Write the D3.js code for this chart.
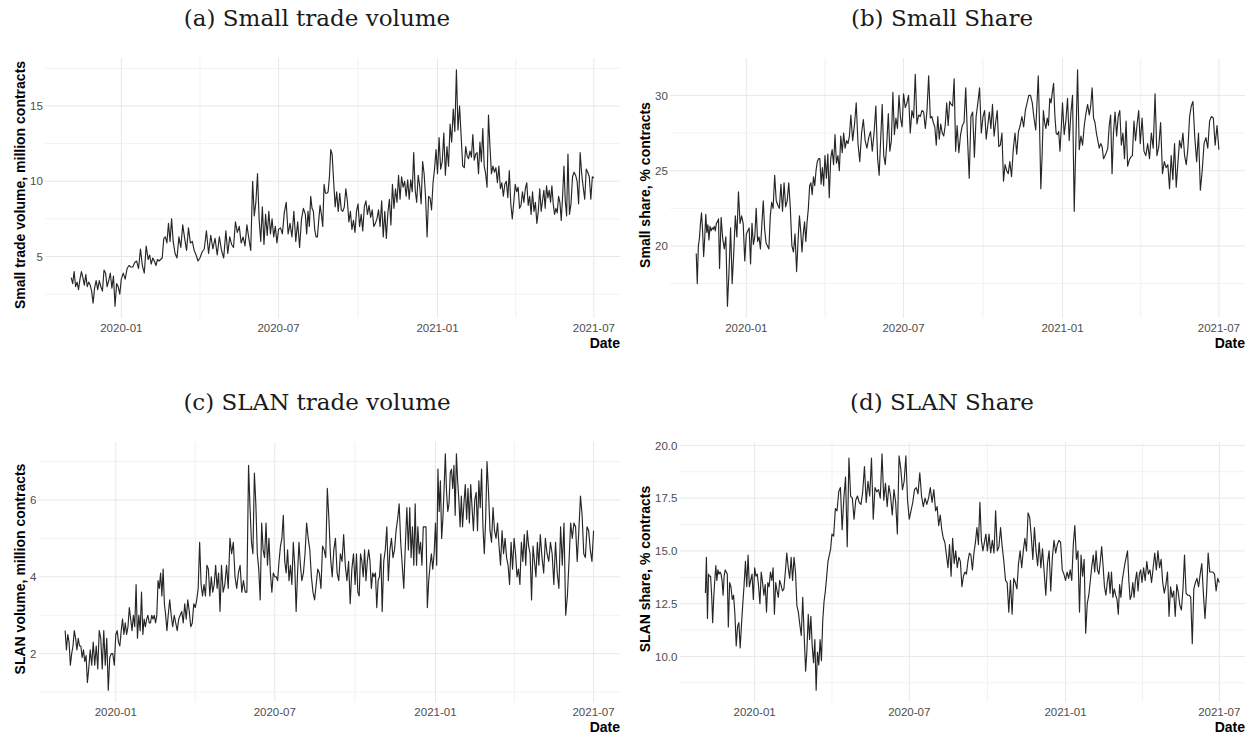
<!DOCTYPE html>
<meta charset="utf-8">
<style>
  body { margin: 0; background: #fff; }
  svg { display: block; background: #fff; }
  .title { font-family: "DejaVu Serif", serif; font-size: 23px; fill: #1a1a1a; }
  .tick-label { font-family: "Liberation Sans", Arial, sans-serif; font-size: 11.5px; fill: #4d4d4d; }
  .axis-title { font-family: "Liberation Sans", Arial, sans-serif; font-size: 14px; font-weight: bold; fill: #000; }
  .grid-major { stroke: #e8e8e8; stroke-width: 1; }
  .grid-minor { stroke: #f2f2f2; stroke-width: 1; }
  .series { fill: none; stroke: #262626; stroke-width: 1.15; stroke-linejoin: round; }
</style>
<body>
<svg width="1250" height="736"></svg>
<script src="https://cdn.jsdelivr.net/npm/d3@7"></script>
<script>
  // months covered by the daily series (first month starts on 4 Nov 2019, last entry is 1 Jul 2021)
  var firstDay = "2019-11-04";
  var months = ["2019-11", "2019-12", "2020-01", "2020-02", "2020-03", "2020-04", "2020-05",
    "2020-06", "2020-07", "2020-08", "2020-09", "2020-10", "2020-11", "2020-12", "2021-01",
    "2021-02", "2021-03", "2021-04", "2021-05", "2021-06", "2021-07"];
  var xTicks = ["2020-01-01", "2020-07-01", "2021-01-01", "2021-07-01"];

  // (a) small trade volume, million contracts
  var smallVolume = [
    [3.6, 3.2, 4.0, 3.0, 3.3, 2.8, 3.5, 4.0, 3.6, 3.1, 3.8, 3.0, 3.3, 3.1, 2.7, 1.9],
    [2.9, 3.4, 2.8, 3.4, 3.0, 2.7, 4.1, 3.9, 3.0, 3.4, 3.9, 2.9, 3.7, 1.7, 3.2, 3.0, 2.5],
    [3.5, 3.9, 3.5, 4.2, 4.4, 4.3, 4.3, 4.6, 4.7, 4.2, 5.5, 4.4, 3.9, 5.7],
    [4.8, 5.1, 4.5, 4.9, 4.7, 4.4, 4.8, 4.7, 4.8, 4.9, 6.2, 6.3, 5.9, 7.2, 6.0, 7.5],
    [6.0, 5.2, 4.9, 6.3, 5.6, 7.1, 6.2, 5.4, 6.9, 5.9, 6.0, 5.4, 5.1, 4.7],
    [4.9, 5.3, 5.5, 6.7, 5.2, 6.4, 5.5, 6.2, 5.1, 6.3, 5.4, 4.9],
    [6.7, 5.2, 6.3, 5.8, 5.6, 7.3, 6.6, 7.0, 5.9, 6.3, 5.7, 7.1, 6.2, 5.4],
    [10.0, 7.7, 8.6, 10.5, 7.5, 6.0, 8.3, 5.8, 7.8, 6.4, 8.0, 6.5, 7.5, 6.3, 7.0, 5.9],
    [6.8, 6.9, 6.5, 7.9, 8.6, 6.5, 7.2, 6.3, 8.0, 6.0, 7.3, 5.6, 7.5, 8.2],
    [7.8, 6.5, 8.0, 7.0, 9.0, 8.2, 8.0, 6.8, 6.3, 6.3, 7.4, 8.4, 7.8, 7.0, 9.8, 9.2, 9.2, 9.3, 10.3, 12.1],
    [11.8, 10.0, 8.3, 9.3, 8.0, 9.2, 8.1, 8.0, 8.3, 9.5, 8.7, 7.3, 8.0, 6.8, 7.4, 6.6, 8.0],
    [8.5, 7.0, 7.8, 6.7, 8.3, 8.7, 7.8, 8.4, 7.6, 8.1, 7.0, 7.2, 7.5, 8.1, 7.0, 8.7, 6.3],
    [8.0, 6.2, 7.9, 8.8, 7.1, 9.8, 8.2, 9.5, 8.6, 10.4, 8.8, 10.3, 9.6, 10.0, 9.0, 10.1, 8.8],
    [10.1, 9.3, 11.9, 9.4, 8.6, 10.4, 9.7, 8.5, 11.3, 10.5, 8.9, 6.3, 9.0, 8.9, 8.1, 9.9, 10.8, 12.1],
    [10.5, 12.9, 10.8, 11.3, 13.2, 10.4, 12.3, 11.0, 13.8, 12.6, 14.8, 13.3, 17.4, 13.4, 15.0, 13.0, 11.0],
    [10.9, 12.3, 11.7, 11.5, 12.0, 11.6, 13.1, 11.4, 11.8, 11.9, 10.5, 12.6, 11.3, 13.5, 11.0, 10.5, 9.6],
    [14.4, 12.3, 10.5, 11.0, 10.6, 10.9, 9.9, 11.0, 9.5, 9.9, 9.0, 9.8, 10.0, 8.9, 10.7, 8.5, 7.5, 8.6],
    [9.8, 9.3, 9.6, 8.2, 8.4, 9.3, 8.6, 9.5, 9.9, 8.4, 9.0, 7.8, 9.3, 8.0, 8.6, 7.2, 8.0, 9.5],
    [8.0, 8.7, 9.4, 8.2, 9.7, 8.9, 9.4, 8.6, 9.7, 8.5, 7.8, 8.2, 7.9, 9.0, 8.6, 7.4, 9.0, 11.0, 8.7, 7.7],
    [11.8, 7.8, 8.5, 10.3, 10.6, 10.4, 10.0, 8.5, 11.9, 10.5, 9.6, 8.8, 10.8, 10.6, 10.3, 8.8, 10.3],
    [10.2]
  ];

  // (b) small share, % contracts
  var smallShare = [
    [19.5, 17.5, 20.0, 20.5, 21.5, 22.2, 21.0, 19.3, 20.5, 22.1, 20.9, 21.4, 20.4, 21.3, 21.0, 21.2, 21.1, 21.3, 21.0, 21.5, 21.6, 21.8],
    [18.5, 21.9, 20.5, 19.8, 20.6, 16.0, 18.3, 21.2, 17.5, 19.5, 22.0, 20.6, 23.6, 21.5, 22.0, 21.5, 19.0],
    [20.8, 21.0, 21.2, 18.8, 21.5, 20.1, 20.6, 22.5, 20.3, 20.6, 19.8, 21.4, 23.0, 21.1, 20.2, 20.0, 19.8, 22.0, 22.9],
    [22.5, 24.7, 23.0, 22.7, 22.5, 24.1, 22.3, 24.2, 22.6, 23.0, 24.2, 22.5, 20.0, 19.6, 20.8, 18.3],
    [20.5, 22.0, 21.0, 19.6, 20.8, 21.6, 20.3, 21.6, 22.5, 24.0, 24.2, 23.4, 24.6, 24.0, 25.0, 25.6, 25.8, 25.8, 24.1, 25.2, 24.0],
    [26.0, 24.5, 26.1, 23.2, 25.8, 26.4, 25.4, 27.4, 25.5, 26.0, 25.0, 27.3, 26.2, 27.5, 26.5, 27.0, 26.8, 27.3],
    [28.7, 27.0, 28.0, 29.5, 26.8, 25.6, 27.5, 28.4, 27.0, 26.5, 27.2, 27.6, 26.3, 27.5, 29.3],
    [25.8, 24.7, 27.1, 29.4, 26.0, 25.4, 26.8, 28.8, 26.3, 27.0, 30.2, 27.4, 28.5, 27.8, 30.0, 28.5, 27.9],
    [30.1, 29.2, 29.5, 30.0, 27.5, 29.0, 28.5, 31.4, 28.1, 28.7, 28.6, 29.0, 28.9, 27.8, 29.0, 31.3],
    [28.5, 28.6, 28.2, 27.9, 26.7, 28.6, 27.1, 28.1, 27.5, 27.3, 28.0, 29.5, 28.0, 29.6, 29.4, 29.3, 31.1, 26.3],
    [28.0, 26.2, 27.4, 28.0, 28.2, 30.5, 27.2, 24.5, 28.6, 28.9, 25.9, 28.6, 29.5, 30.5, 27.5],
    [28.6, 29.0, 27.1, 28.0, 28.9, 27.8, 29.4, 27.3, 28.2, 29.0, 26.6, 26.7, 27.5, 24.3, 25.4, 25.0, 24.8],
    [25.6, 24.6, 26.4, 27.5, 26.1, 27.6, 28.0, 28.6, 27.9, 29.0, 29.5, 30.0, 30.0, 29.5, 28.5],
    [27.7, 29.5, 31.3, 28.0, 23.8, 26.0, 29.0, 28.2, 27.8, 28.5, 28.0, 29.8, 29.5, 30.2, 30.8, 28.7, 27.5, 27.4, 27.6, 26.3, 27.8],
    [29.5, 27.4, 28.3, 29.8, 27.0, 28.8, 30.0, 22.3, 27.0, 31.7, 26.4, 27.3, 26.7, 28.0, 28.8, 29.4],
    [28.7, 29.3, 30.5, 28.5, 28.2, 27.5, 27.0, 26.5, 26.8, 26.6, 25.8, 26.0, 26.2, 26.5, 28.0, 28.7, 24.8],
    [27.5, 28.9, 27.3, 28.6, 29.0, 26.7, 27.5, 25.8, 28.3, 25.3, 25.7, 25.9, 26.0, 28.3, 27.0, 28.1, 29.0],
    [26.8, 28.5, 26.3, 26.0, 26.8, 25.8, 27.5, 26.5, 30.1, 26.0, 26.6, 28.2, 24.8, 25.6],
    [25.2, 25.4, 23.8, 26.0, 24.4, 26.8, 23.9, 25.5, 27.0, 26.5, 27.5, 26.0, 25.4, 26.5, 28.6, 29.3],
    [29.6, 27.2, 25.6, 27.5, 23.7, 25.0, 26.8, 27.2, 26.5, 28.3, 28.6, 28.5, 26.7, 28.0],
    [26.4]
  ];

  // (c) SLAN trade volume, million contracts
  var slanVolume = [
    [2.6, 2.1, 2.5, 2.3, 1.7, 2.0, 2.2, 2.6, 2.4, 2.1, 2.4, 2.2, 2.2, 1.9, 2.1, 1.8, 1.95, 1.25],
    [1.6, 2.1, 1.7, 2.3, 1.7, 2.2, 1.6, 2.6, 2.4, 1.6, 2.6, 1.7, 2.4, 1.05, 1.9, 2.0, 2.0, 1.7],
    [2.5, 2.6, 2.3, 2.2, 2.6, 2.9, 2.5, 2.8, 2.5, 2.7, 3.2, 2.9, 2.6, 3.0, 2.7, 3.8, 2.4, 3.0, 2.6, 3.6],
    [2.5, 2.9, 2.7, 2.9, 3.0, 2.8, 2.8, 3.0, 2.9, 3.0, 2.8, 3.0, 3.9, 3.7, 4.1, 3.5, 4.2, 3.3, 3.0, 2.6],
    [3.0, 3.4, 3.0, 2.7, 3.0, 2.8, 2.6, 2.9, 3.0, 3.1, 2.8, 3.3, 2.9, 3.4, 3.1, 2.7, 2.8, 3.3],
    [3.2, 3.4, 3.7, 4.9, 3.8, 3.5, 3.8, 3.5, 4.3, 4.2, 3.5, 4.0, 3.6, 3.8, 4.3, 3.7, 4.1, 3.1],
    [4.3, 3.6, 3.8, 4.3, 3.7, 5.0, 4.6, 4.9, 4.0, 3.7, 4.1, 4.3, 3.6, 3.9, 3.6, 3.6],
    [6.9, 5.8, 4.9, 4.6, 6.7, 5.9, 4.6, 4.2, 3.4, 5.4, 4.7, 4.5, 5.4, 4.3, 5.0, 4.1, 3.6, 4.1],
    [4.0, 4.0, 3.9, 4.4, 4.8, 5.0, 5.6, 4.4, 4.1, 4.7, 3.9, 4.3, 3.8, 4.9, 4.3, 3.1, 4.1, 4.9, 4.3],
    [3.9, 4.1, 4.6, 5.4, 5.0, 4.7, 4.0, 3.6, 3.4, 3.8, 4.2, 4.1, 3.7, 4.8, 4.7, 4.5, 6.3],
    [5.5, 4.5, 4.0, 4.7, 5.0, 4.1, 3.9, 4.6, 4.4, 5.1, 4.3, 3.9, 4.4, 3.3, 4.2, 4.6],
    [3.8, 4.6, 3.6, 3.5, 4.6, 4.4, 4.0, 4.7, 3.9, 4.4, 4.7, 4.4, 3.7, 4.1, 4.0, 4.1, 3.2, 3.9, 4.0, 4.6],
    [3.1, 4.4, 4.7, 5.3, 3.9, 4.7, 5.0, 4.5, 4.7, 5.2, 5.5, 5.9, 4.9, 4.3, 3.7, 4.8, 5.8],
    [4.7, 5.8, 4.5, 5.3, 4.3, 5.9, 4.3, 5.3, 4.6, 4.9, 4.3, 5.3, 5.3, 5.3, 3.2, 3.9, 4.3, 4.6, 4.2, 4.6],
    [5.4, 4.3, 6.8, 5.7, 6.5, 5.0, 5.5, 6.3, 7.2, 6.2, 5.7, 5.9, 6.7, 6.8, 6.3, 6.9, 5.6, 7.2, 6.5, 6.0, 5.3, 6.1],
    [5.3, 5.9, 6.4, 5.5, 6.3, 5.4, 6.4, 5.8, 5.2, 6.0, 6.2, 5.2, 6.5, 5.8, 6.8, 5.3, 4.6, 5.5],
    [7.0, 6.2, 5.2, 4.9, 5.8, 5.2, 5.0, 5.4, 4.8, 4.3, 5.2, 4.6, 5.0, 4.5, 4.3, 3.8, 4.9, 4.2],
    [5.0, 4.6, 4.0, 4.2, 3.8, 4.9, 4.4, 5.1, 4.3, 5.2, 4.8, 4.6, 3.4, 4.8, 4.4, 4.0, 4.9, 4.3],
    [5.1, 4.5, 4.1, 5.0, 4.6, 4.4, 4.9, 4.6, 3.8, 4.9, 4.1, 3.7, 5.3, 4.3, 5.4, 3.0],
    [3.5, 4.4, 5.4, 5.0, 5.4, 5.3, 4.4, 5.2, 6.1, 5.6, 4.6, 4.5, 5.3, 5.2, 4.7, 4.4],
    [5.2]
  ];

  // (d) SLAN share, % contracts
  var slanShare = [
    [13.0, 14.7, 11.8, 13.9, 13.8, 13.8, 12.9, 11.6, 12.8, 13.6, 14.3, 13.6, 14.1, 13.9, 14.0, 13.9, 13.6, 12.9, 13.8, 14.1, 14.0, 13.9],
    [11.4, 13.5, 13.3, 12.7, 12.9, 12.0, 10.5, 11.4, 11.6, 10.4, 11.5, 12.5, 13.4, 14.5, 13.3, 14.8, 13.3, 13.6, 13.9, 12.7],
    [14.2, 13.8, 13.9, 13.3, 12.5, 14.0, 13.5, 12.9, 13.4, 12.1, 13.5, 13.3, 14.0, 13.6, 14.2, 12.0, 13.5, 13.1, 12.8, 13.6],
    [13.4, 13.1, 13.2, 14.0, 14.9, 14.2, 13.7, 14.7, 13.6, 14.7, 14.0, 12.4, 12.1, 11.5, 11.0, 12.8, 11.0],
    [9.3, 10.3, 12.0, 10.8, 11.9, 10.5, 9.7, 10.8, 8.4, 10.2, 9.6, 10.8, 9.8, 11.7, 12.6, 13.1, 13.8, 14.5, 14.8, 15.1],
    [15.8, 15.7, 17.0, 16.9, 17.8, 18.0, 16.0, 17.5, 18.5, 15.2, 19.4, 17.6, 17.5, 16.5, 17.4],
    [17.6, 17.3, 17.2, 17.8, 19.0, 17.3, 18.3, 17.6, 19.4, 16.5, 18.0, 17.8, 17.9, 17.5, 19.6],
    [17.4, 18.2, 17.1, 18.1, 17.6, 16.7, 17.9, 17.3, 15.8, 19.5, 18.9, 17.9, 18.3, 19.5, 17.4],
    [16.5, 16.9, 17.3, 17.9, 18.0, 17.7, 18.7, 17.6, 17.1, 17.5, 17.2, 17.5, 18.0, 17.3, 17.9],
    [16.9, 17.1, 16.2, 16.7, 16.0, 15.6, 15.4, 14.8, 14.2, 15.3, 13.8, 15.6, 14.4, 15.0, 14.2, 14.7, 14.5],
    [13.3, 13.8, 14.0, 13.9, 14.5, 14.9, 14.8, 14.1, 14.9, 15.4, 16.1, 15.3, 17.3, 15.5, 15.0, 15.4, 15.8],
    [15.0, 15.8, 14.9, 15.5, 14.9, 16.9, 15.0, 15.2, 16.1, 15.2, 14.5, 13.6, 13.5, 12.1, 13.6, 12.0],
    [13.7, 13.5, 13.2, 14.4, 15.0, 14.2, 15.0, 15.6, 15.0, 16.8, 16.6, 15.7, 14.6, 16.1, 15.0, 14.3],
    [15.4, 14.2, 15.1, 14.0, 12.9, 14.4, 15.0, 13.1, 14.7, 15.5, 14.9, 15.3, 15.5, 15.4, 14.1, 13.9],
    [13.6, 14.0, 13.7, 14.1, 13.6, 15.3, 16.2, 14.6, 15.0, 12.1, 14.8, 13.8, 14.6, 11.1, 12.5, 12.9, 13.6],
    [14.3, 14.8, 14.0, 15.0, 14.1, 13.9, 14.5, 15.2, 14.3, 13.3, 12.9, 13.5, 14.0, 13.0, 14.0, 12.8, 13.2],
    [12.9, 12.7, 12.0, 13.4, 12.8, 13.6, 14.0, 14.4, 14.7, 15.0, 13.6, 12.7, 12.9, 13.5, 12.8, 13.6, 14.0, 13.1, 13.9, 14.1],
    [13.5, 14.2, 13.6, 14.5, 13.9, 14.1, 13.5, 14.2, 14.9, 14.1, 15.0, 14.2, 14.6, 13.5, 13.0, 13.4],
    [14.0, 11.9, 13.3, 12.8, 13.1, 11.9, 13.4, 13.0, 12.4, 12.2, 13.2, 14.8, 13.0, 12.9, 12.9, 12.8, 10.6],
    [13.2, 13.5, 13.7, 13.3, 13.9, 14.4, 13.0, 11.8, 13.0, 14.9, 14.0, 14.0, 14.0, 13.9, 13.1, 13.7],
    [13.5]
  ];

  var titles = ["(a) Small trade volume", "(b) Small Share", "(c) SLAN trade volume", "(d) SLAN Share"];
  var yTitles = ["Small trade volume, million contracts", "Small share, % contracts",
    "SLAN volume, million contracts", "SLAN share, % contracts"];
  var yTicksA = [5, 10, 15];
  var yTicksB = [20, 25, 30];
  var yTicksC = [2, 4, 6];
  var yTicksD = [10, 12.5, 15, 17.5, 20];

  var svg = d3.select("svg");
  var parseDay = d3.timeParse("%Y-%m-%d");
  var parseMonth = d3.timeParse("%Y-%m");

  function toPoints(monthly) {
    var pts = [];
    monthly.forEach(function(vals, m) {
      var start = m === 0 ? parseDay(firstDay) : parseMonth(months[m]);
      var end = m < months.length - 1 ? parseMonth(months[m + 1]) : start;
      vals.forEach(function(v, i) {
        pts.push({ date: new Date(+start + (end - start) * i / vals.length), value: v });
      });
    });
    return pts;
  }

  var panels = [
    { ox: 0, oy: 0, title: titles[0], yTitle: yTitles[0], data: smallVolume, ticks: yTicksA, fmt: d3.format("d") },
    { ox: 625, oy: 0, title: titles[1], yTitle: yTitles[1], data: smallShare, ticks: yTicksB, fmt: d3.format("d") },
    { ox: 0, oy: 384, title: titles[2], yTitle: yTitles[2], data: slanVolume, ticks: yTicksC, fmt: d3.format("d") },
    { ox: 625, oy: 384, title: titles[3], yTitle: yTitles[3], data: slanShare, ticks: yTicksD, fmt: d3.format(".1f") }
  ];

  panels.forEach(drawPanel);

  function drawPanel(p) {
    var g = svg.append("g").attr("transform", "translate(" + p.ox + "," + p.oy + ")");
    var top = 58, bottom = 318, right = 620;
    var pts = toPoints(p.data);

    var ext = d3.extent(pts, function(d) { return d.value; });
    var pad = (ext[1] - ext[0]) * 0.05;
    var y = d3.scaleLinear().domain([ext[0] - pad, ext[1] + pad]).range([bottom, top]);

    // y tick labels first, so the panel's left edge can follow their width
    var yLab = g.append("g").selectAll("text").data(p.ticks).enter().append("text")
      .attr("class", "tick-label")
      .attr("text-anchor", "end")
      .attr("y", function(d) { return y(d); })
      .attr("dy", "0.36em")
      .text(p.fmt);
    var w = d3.max(yLab.nodes(), function(n) { return n.getComputedTextLength(); });
    var left = 30 + w + 2.3;
    yLab.attr("x", left - 2.3);

    var tExt = d3.extent(pts, function(d) { return d.date; });
    var tPad = (tExt[1] - tExt[0]) * 0.05;
    var x = d3.scaleTime()
      .domain([new Date(+tExt[0] - tPad), new Date(+tExt[1] + tPad)])
      .range([left, right]);

    var xMajor = xTicks.map(parseDay);
    var xMinor = d3.pairs(xMajor).map(function(q) { return new Date((+q[0] + +q[1]) / 2); });
    var step = p.ticks[1] - p.ticks[0];
    var yMinor = [p.ticks[0] - step / 2].concat(p.ticks.map(function(t) { return t + step / 2; }))
      .filter(function(v) { return v >= y.domain()[0] && v <= y.domain()[1]; });
    var yMajor = p.ticks.filter(function(v) { return v >= y.domain()[0] && v <= y.domain()[1]; });
    var xMinorIn = xMinor.filter(function(d) { return d >= x.domain()[0] && d <= x.domain()[1]; });

    var grid = g.append("g");
    grid.selectAll(".ym").data(yMinor).enter().append("line")
      .attr("class", "grid-minor")
      .attr("x1", left).attr("x2", right)
      .attr("y1", function(d) { return y(d); }).attr("y2", function(d) { return y(d); });
    grid.selectAll(".xm").data(xMinorIn).enter().append("line")
      .attr("class", "grid-minor")
      .attr("y1", top).attr("y2", bottom)
      .attr("x1", function(d) { return x(d); }).attr("x2", function(d) { return x(d); });
    grid.selectAll(".yM").data(yMajor).enter().append("line")
      .attr("class", "grid-major")
      .attr("x1", left).attr("x2", right)
      .attr("y1", function(d) { return y(d); }).attr("y2", function(d) { return y(d); });
    grid.selectAll(".xM").data(xMajor).enter().append("line")
      .attr("class", "grid-major")
      .attr("y1", top).attr("y2", bottom)
      .attr("x1", function(d) { return x(d); }).attr("x2", function(d) { return x(d); });

    var line = d3.line()
      .x(function(d) { return x(d.date); })
      .y(function(d) { return y(d.value); });
    g.append("path").datum(pts).attr("class", "series").attr("d", line);

    g.append("g").selectAll("text").data(xMajor).enter().append("text")
      .attr("class", "tick-label")
      .attr("text-anchor", "middle")
      .attr("x", function(d) { return x(d); })
      .attr("y", bottom + 13.5)
      .text(d3.timeFormat("%Y-%m"));

    g.append("text")
      .attr("class", "axis-title")
      .attr("text-anchor", "end")
      .attr("x", right)
      .attr("y", bottom + 30)
      .text("Date");

    g.append("text")
      .attr("class", "axis-title")
      .attr("text-anchor", "middle")
      .attr("transform", "translate(25," + ((top + bottom) / 2 - 3) + ") rotate(-90)")
      .text(p.yTitle);

    g.append("text")
      .attr("class", "title")
      .attr("text-anchor", "middle")
      .attr("x", 317)
      .attr("y", 26)
      .text(p.title);
  }
</script>
</body>
